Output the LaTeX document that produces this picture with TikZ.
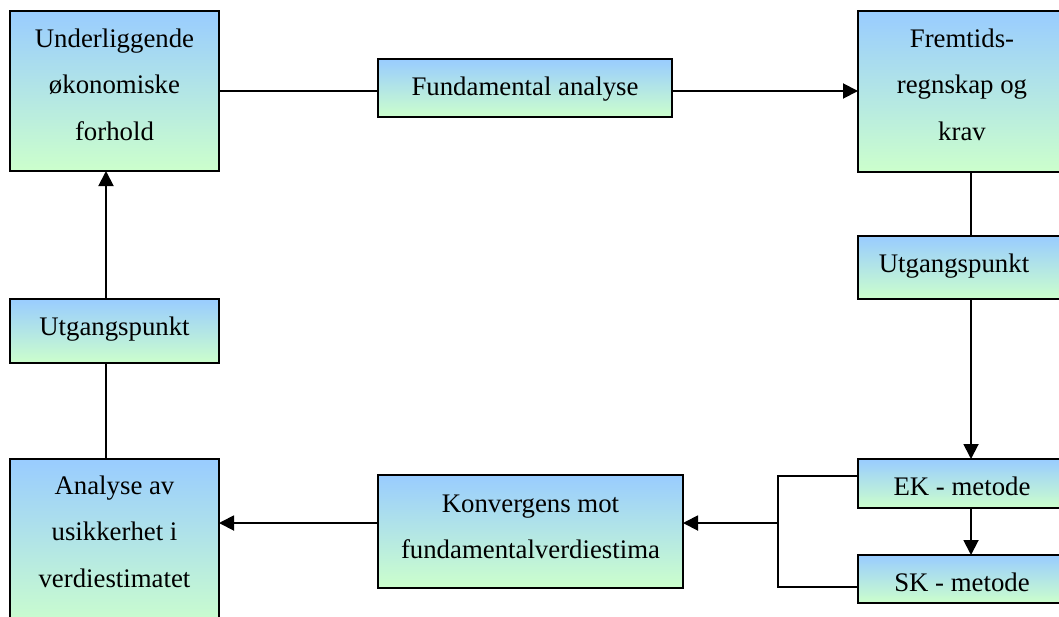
\documentclass[tikz,border=0pt]{standalone}
\usepackage{fontspec}
\setmainfont{Liberation Serif}
\usetikzlibrary{arrows.meta}
\definecolor{topc}{RGB}{153,204,255}
\definecolor{botc}{RGB}{204,255,204}
\tikzset{
  box/.style={draw=black, line width=1.9pt, top color=topc, bottom color=botc,
              inner sep=0pt, outer sep=0pt, rectangle},
  txt/.style={anchor=north, inner sep=0pt, align=center,
              font=\fontsize{26.8pt}{46.5pt}\selectfont},
  conn/.style={line width=1.9pt, draw=black},
  arr/.style={conn, -{Triangle[length=15pt,width=15pt]}}
}
\newcommand{\fl}{\rule{0pt}{20pt}}
\begin{document}
\begin{tikzpicture}[x=1pt,y=-1pt]
\useasboundingbox (0,0) rectangle (1059,616);
% boxes
\node[box, minimum width=209pt, minimum height=160pt] (A)  at (114.5,91) {};
\node[box, minimum width=294pt, minimum height=58pt]  (F)  at (525,88) {};
\node[box, minimum width=208pt, minimum height=161pt] (R)  at (962,91.5) {};
\node[box, minimum width=208pt, minimum height=63pt]  (U2) at (962,267.5) {};
\node[box, minimum width=208pt, minimum height=49pt]  (EK) at (962,483.5) {};
\node[box, minimum width=208pt, minimum height=48pt]  (SK) at (962,579) {};
\node[box, minimum width=305pt, minimum height=113pt] (K)  at (530.5,531.5) {};
\node[box, minimum width=209pt, minimum height=64pt]  (U1) at (114.5,331) {};
\node[box, minimum width=209pt, minimum height=171pt] (AN) at (114.5,544.5) {};
% texts
\node[txt, yshift=-16pt] (tA)  at (A.north)  {\fl Underliggende\\økonomiske\\forhold};
\node[txt, yshift=-16pt] (tF)  at (F.north)  {\fl Fundamental analyse};
\node[txt, yshift=-16pt] (tR)  at (R.north)  {\fl Fremtids-\\regnskap og\\krav};
\node[txt, yshift=-16pt, xshift=-8pt] (tU2) at (U2.north) {\fl Utgangspunkt};
\node[txt, yshift=-16pt] (tEK) at (EK.north) {\fl EK - metode};
\node[txt, yshift=-16pt] (tSK) at (SK.north) {\fl SK - metode};
\node[txt, yshift=-17pt] (tK)  at (K.north)  {\fl Konvergens mot\\fundamentalverdiestima};
\node[txt, yshift=-16pt] (tU1) at (U1.north) {\fl Utgangspunkt};
\node[txt, yshift=-15pt] (tAN) at (AN.north) {\fl Analyse av\\usikkerhet i\\verdiestimatet};
% connectors top
\draw[conn] (A.east) -- (A.east -| F.west);
\draw[arr] (A.east -| F.east) -- (A.east -| R.west);
% right column
\draw[conn] ([xshift=9pt]R.south) -- ([xshift=9pt]U2.north);
\draw[arr] ([xshift=9pt]U2.south) -- ([xshift=9pt]EK.north);
\draw[arr] ([xshift=9pt]EK.south) -- ([xshift=9pt]SK.north);
% bracket
\coordinate (bt) at (778,476);
\coordinate (bb) at (778,587);
\coordinate (bm) at (778,523);
\draw[conn] (EK.west |- bt) -- (bt) -- (bb) -- (SK.west |- bb);
\draw[arr] (bm) -- (K.east |- bm);
\draw[arr] (K.west |- bm) -- (AN.east |- bm);
% left column
\draw[conn] ([xshift=-8.5pt]AN.north) -- ([xshift=-8.5pt]U1.south);
\draw[arr] ([xshift=-8.5pt]U1.north) -- ([xshift=-8.5pt]A.south);
\end{tikzpicture}
\end{document}
